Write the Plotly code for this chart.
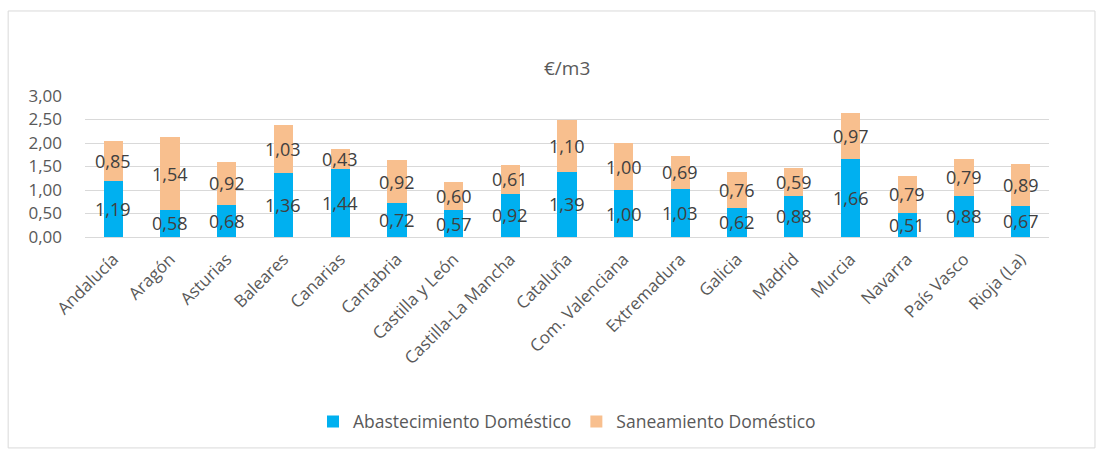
import plotly.graph_objects as go

regions = ["Andalucía", "Aragón", "Asturias", "Baleares", "Canarias", "Cantabria",
           "Castilla y León", "Castilla-La Mancha", "Cataluña", "Com. Valenciana",
           "Extremadura", "Galicia", "Madrid", "Murcia", "Navarra", "País Vasco", "Rioja (La)"]
abastecimiento = [1.19, 0.58, 0.68, 1.36, 1.44, 0.72, 0.57, 0.92, 1.39, 1.00,
                  1.03, 0.62, 0.88, 1.66, 0.51, 0.88, 0.67]
saneamiento = [0.85, 1.54, 0.92, 1.03, 0.43, 0.92, 0.60, 0.61, 1.10, 1.00,
               0.69, 0.76, 0.59, 0.97, 0.79, 0.79, 0.89]
y_ticks = [0, 0.5, 1.0, 1.5, 2.0, 2.5, 3.0]

BLUE = "#00B0F0"
PEACH = "#F8BF8E"
FONT = "Open Sans"


def fmt(v):
    return f"{v:.2f}".replace(".", ",")


fig = go.Figure()
fig.add_trace(go.Bar(x=regions, y=abastecimiento, name="Abastecimiento Doméstico",
                     marker=dict(color=BLUE, line=dict(width=0)), textposition="none"))
fig.add_trace(go.Bar(x=regions, y=saneamiento, name="Saneamiento Doméstico",
                     marker=dict(color=PEACH, line=dict(width=0)), textposition="none"))

annotations = []
for r, a, s in zip(regions, abastecimiento, saneamiento):
    annotations.append(dict(x=r, y=a / 2, xref="x", yref="y", text=fmt(a), showarrow=False,
                            font=dict(family=FONT, size=18, color="#404040")))
    annotations.append(dict(x=r, y=a + s / 2, xref="x", yref="y", text=fmt(s), showarrow=False,
                            font=dict(family=FONT, size=18, color="#404040")))

annotations.append(dict(x=0.5, y=1.199, xref="paper", yref="paper", text="€/m3", showarrow=False,
                        yanchor="middle",
                        font=dict(family=FONT, size=19, color="#595959")))

fig.update_layout(
    width=1103, height=452,
    margin=dict(l=85, r=54, t=96, b=215, autoexpand=False),
    paper_bgcolor="white", plot_bgcolor="white",
    barmode="stack", bargap=0.66,
    separators=",.",
    font=dict(family=FONT, color="#595959"),
    showlegend=True,
    legend=dict(orientation="h", x=0.5, xanchor="center", y=-1.31, yanchor="middle",
                font=dict(family=FONT, size=17.5, color="#595959"), itemwidth=30,
                traceorder="normal"),
    annotations=annotations,
    shapes=[dict(type="rect", xref="paper", yref="paper", x0=-0.0797, x1=1.0477,
                 y0=-1.496, y1=1.603,
                 line=dict(color="#D9D9D9", width=1), fillcolor="rgba(0,0,0,0)", layer="below")],
)

fig.update_xaxes(tickangle=-45, tickfont=dict(family=FONT, size=17, color="#595959"),
                 ticklabelstandoff=8,
                 showgrid=False, showline=False, ticks="", zeroline=False)
fig.update_yaxes(range=[0, 3.0], tickvals=y_ticks, tickformat=".2f",
                 tickfont=dict(family=FONT, size=17, color="#595959"),
                 ticklabelstandoff=22,
                 showgrid=True, gridcolor="#D9D9D9", gridwidth=1, zeroline=True,
                 zerolinecolor="#D9D9D9", zerolinewidth=1, showline=False, ticks="")

fig.write_html("out.html")
